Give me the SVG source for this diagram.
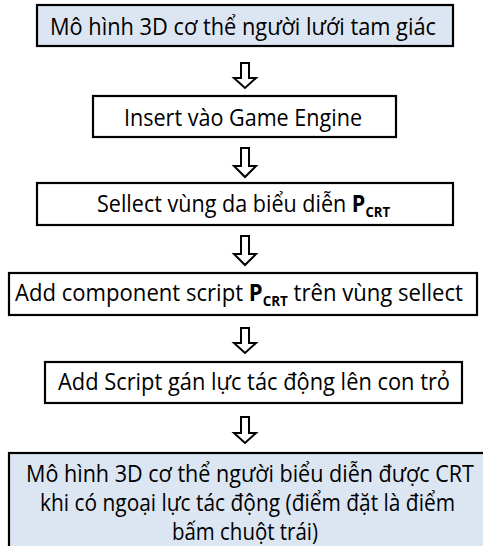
<svg xmlns="http://www.w3.org/2000/svg" width="483" height="546" viewBox="0 0 483 546">
<style>
.box{stroke:#000;stroke-width:2.2;}
.blue{fill:#dce6f2;}
.white{fill:#fff;}
.t{font-family:"Open Sans","Noto Sans","DejaVu Sans",sans-serif;font-size:23px;fill:#000;}
.b{font-weight:bold;}
.sub{font-size:14px;font-weight:bold;}
.arr{fill:#fff;stroke:#000;stroke-width:2;stroke-linejoin:miter;}
</style>
<rect width="483" height="546" fill="#fff"/>
<g id="node1">
<rect class="box blue" x="37" y="5" width="416" height="41"/>
<text class="t" x="50" y="35" textLength="386" lengthAdjust="spacingAndGlyphs">Mô hình 3D cơ thể người lưới tam giác</text>
</g>
<g id="node2">
<rect class="box white" x="93" y="96" width="303" height="41"/>
<text class="t" x="124" y="126" textLength="238" lengthAdjust="spacingAndGlyphs">Insert vào Game Engine</text>
</g>
<g id="node3">
<rect class="box white" x="37" y="183" width="416" height="42"/>
<text class="t" x="97" y="212" textLength="293" lengthAdjust="spacingAndGlyphs">Sellect vùng da biểu diễn <tspan class="b">P</tspan><tspan class="sub" dy="5">CRT</tspan></text>
</g>
<g id="node4">
<rect class="box white" x="9" y="273" width="468" height="42"/>
<text class="t" x="15" y="301" textLength="448" lengthAdjust="spacingAndGlyphs">Add component script <tspan class="b">P</tspan><tspan class="sub" dy="5">CRT</tspan><tspan dy="-5"> trên vùng sellect</tspan></text>
</g>
<g id="node5">
<rect class="box white" x="45" y="362" width="417" height="41"/>
<text class="t" x="58" y="390" textLength="392" lengthAdjust="spacingAndGlyphs">Add Script gán lực tác động lên con trỏ</text>
</g>
<g id="node6">
<rect class="box blue" x="9" y="453" width="476" height="96"/>
<text class="t" x="26" y="482" textLength="448" lengthAdjust="spacingAndGlyphs">Mô hình 3D cơ thể người biểu diễn được CRT</text>
<text class="t" x="40" y="511" textLength="415" lengthAdjust="spacingAndGlyphs">khi có ngoại lực tác động (điểm đặt là điểm</text>
<text class="t" x="172" y="540" textLength="146" lengthAdjust="spacingAndGlyphs">bấm chuột trái)</text>
</g>
<g id="connectors">
<path class="arr" d="M241,63 h8 v15 h7 l-11,10 l-11,-10 h7 z"/>
<path class="arr" d="M241,148 h8 v18 h7 l-11,11 l-11,-11 h7 z"/>
<path class="arr" d="M241,236 h8 v18 h7 l-11,11 l-11,-11 h7 z"/>
<path class="arr" d="M241,328 h8 v15 h7 l-11,10 l-11,-10 h7 z"/>
<path class="arr" d="M241,417 h8 v16 h7 l-11,10 l-11,-10 h7 z"/>
</g>
</svg>
